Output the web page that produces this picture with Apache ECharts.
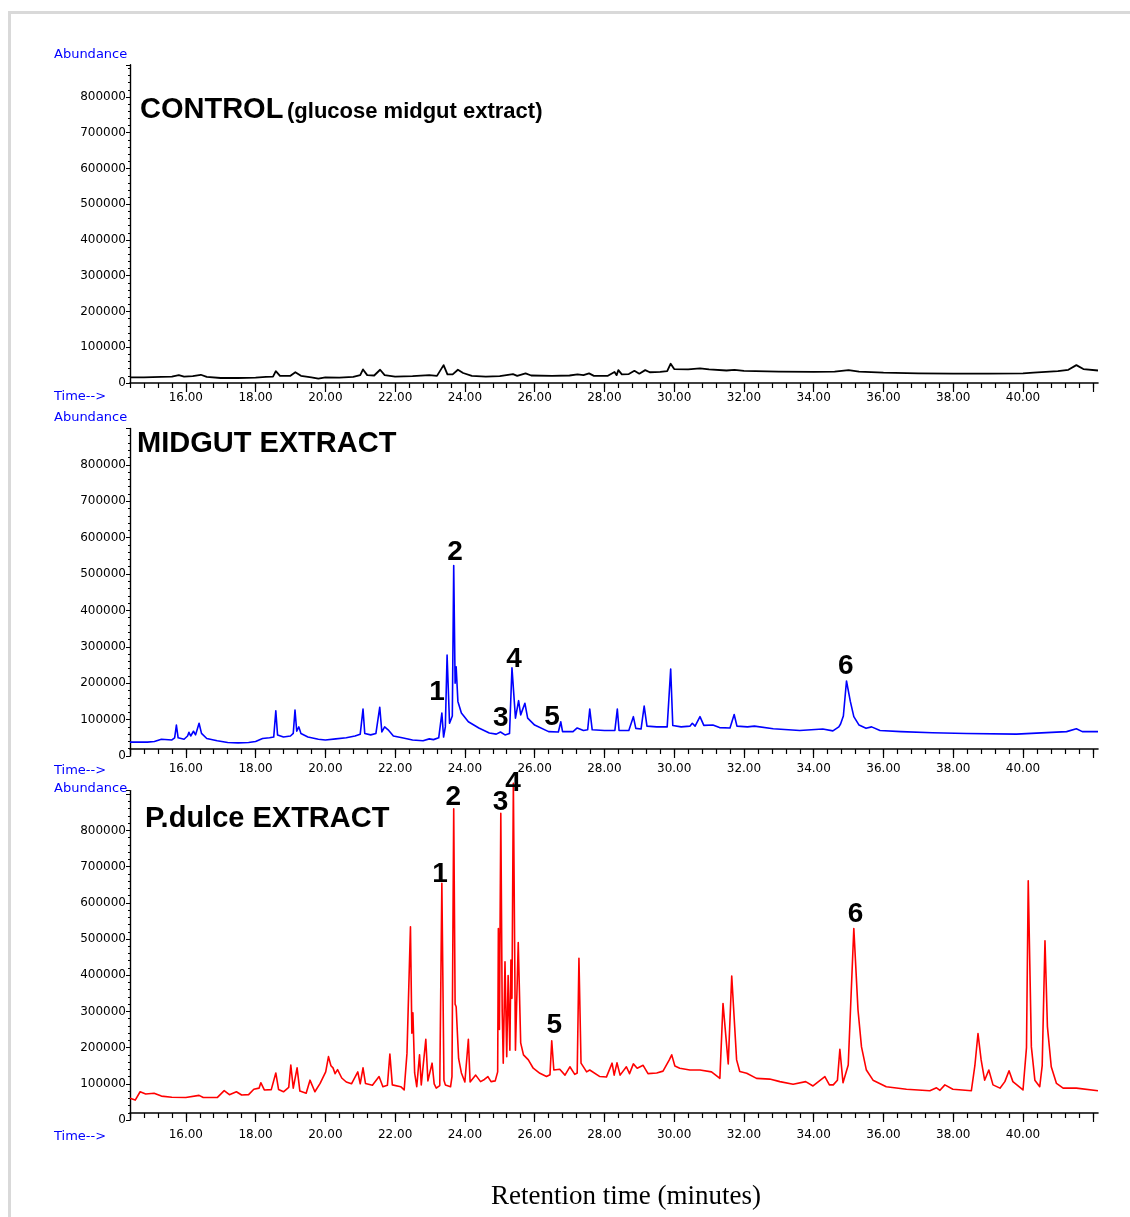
<!DOCTYPE html>
<html>
<head>
<meta charset="utf-8">
<script src="https://cdn.jsdelivr.net/npm/echarts@6/dist/echarts.min.js"></script>
<style>
  html, body { margin: 0; padding: 0; background: #ffffff; }
  #chart { width: 1130px; height: 1217px; }
</style>
</head>
<body>
<div id="chart"></div>
<script>
// GC-MS total ion chromatograms: retention time (min) vs abundance.

// Control (glucose midgut extract)
const controlTrace = [
  [14.40, 16000], [14.80, 16000], [15.30, 17000], [15.60, 18000], [15.80, 22000], [15.95, 18000],
  [16.20, 19000], [16.43, 23000], [16.60, 17000], [17.00, 14000], [17.50, 14000], [18.00, 15000],
  [18.30, 17000], [18.50, 18000], [18.58, 33000], [18.70, 20000], [19.00, 20000], [19.14, 30000],
  [19.30, 20000], [19.60, 16000], [19.80, 12000], [20.00, 16000], [20.40, 15000], [20.80, 17000],
  [21.00, 22000], [21.08, 38000], [21.20, 22000], [21.40, 21000], [21.57, 37000], [21.70, 22000],
  [22.00, 18000], [22.50, 19000], [22.98, 22000], [23.20, 20000], [23.39, 50000], [23.50, 24000],
  [23.65, 24000], [23.80, 37000], [23.95, 28000], [24.20, 20000], [24.60, 18000], [25.00, 19000],
  [25.38, 25000], [25.50, 20000], [25.74, 27000], [25.90, 21000], [26.50, 20000], [27.00, 21000],
  [27.23, 24000], [27.40, 22000], [27.56, 27000], [27.70, 20000], [28.10, 20000], [28.29, 31000],
  [28.35, 22000], [28.40, 36000], [28.50, 24000], [28.70, 25000], [28.86, 34000], [29.00, 26000],
  [29.17, 36000], [29.30, 30000], [29.60, 31000], [29.80, 33000], [29.90, 54000], [30.00, 39000],
  [30.40, 38000], [30.74, 41000], [31.00, 38000], [31.50, 35000], [31.73, 37000], [32.00, 34000],
  [33.00, 32000], [34.00, 31000], [34.60, 32000], [35.00, 36000], [35.30, 32000], [36.00, 29000],
  [37.00, 27000], [38.00, 26000], [39.00, 26000], [40.00, 27000], [40.30, 29000], [41.00, 33000],
  [41.30, 37000], [41.53, 50000], [41.73, 39000], [42.15, 35000]
];

// Midgut extract
const midgutTrace = [
  [14.40, 38000], [14.90, 38000], [15.10, 40000], [15.30, 46000], [15.60, 44000], [15.68, 50000],
  [15.73, 85000], [15.78, 50000], [15.95, 46000], [16.05, 55000], [16.09, 65000], [16.14, 55000],
  [16.22, 68000], [16.28, 58000], [16.38, 90000], [16.45, 62000], [16.60, 48000], [16.90, 42000],
  [17.20, 37000], [17.50, 36000], [17.80, 37000], [18.00, 40000], [18.20, 48000], [18.40, 50000],
  [18.52, 52000], [18.58, 124000], [18.63, 58000], [18.80, 52000], [19.00, 55000], [19.08, 62000],
  [19.13, 126000], [19.18, 68000], [19.24, 80000], [19.30, 62000], [19.50, 52000], [19.80, 46000],
  [20.00, 44000], [20.30, 47000], [20.60, 50000], [20.85, 55000], [21.00, 60000], [21.08, 129000],
  [21.13, 62000], [21.30, 58000], [21.45, 62000], [21.56, 134000], [21.62, 66000], [21.70, 80000],
  [21.80, 72000], [21.95, 55000], [22.20, 50000], [22.50, 44000], [22.80, 42000], [22.98, 47000],
  [23.10, 45000], [23.25, 50000], [23.34, 118000], [23.39, 52000], [23.44, 80000], [23.49, 277000],
  [23.56, 90000], [23.64, 110000], [23.68, 523000], [23.72, 200000], [23.75, 245000], [23.80, 150000],
  [23.90, 118000], [24.10, 94000], [24.40, 77000], [24.70, 63000], [24.90, 60000], [25.02, 66000],
  [25.15, 58000], [25.28, 62000], [25.35, 242000], [25.45, 104000], [25.54, 152000], [25.60, 113000],
  [25.72, 145000], [25.80, 104000], [26.00, 85000], [26.40, 67000], [26.68, 66000], [26.75, 94000],
  [26.80, 67000], [27.10, 67000], [27.22, 77000], [27.40, 70000], [27.52, 72000], [27.58, 129000],
  [27.65, 72000], [28.00, 70000], [28.30, 70000], [28.37, 129000], [28.42, 70000], [28.70, 70000],
  [28.83, 108000], [28.90, 76000], [29.05, 74000], [29.14, 137000], [29.22, 82000], [29.50, 80000],
  [29.80, 80000], [29.90, 239000], [29.96, 84000], [30.20, 80000], [30.45, 82000], [30.52, 90000],
  [30.60, 82000], [30.74, 108000], [30.85, 84000], [31.11, 85000], [31.30, 78000], [31.60, 77000],
  [31.72, 114000], [31.80, 82000], [32.10, 80000], [32.30, 82000], [32.84, 75000], [33.60, 70000],
  [34.26, 74000], [34.55, 69000], [34.72, 80000], [34.77, 88000], [34.85, 110000], [34.94, 206000],
  [35.05, 150000], [35.15, 108000], [35.30, 85000], [35.50, 76000], [35.66, 80000], [35.90, 70000],
  [36.50, 67000], [37.40, 64000], [38.38, 62000], [39.81, 60000], [41.25, 67000], [41.53, 75000],
  [41.70, 67000], [42.15, 67000]
];

// P.dulce extract
const dulceTrace = [
  [14.40, 60000], [14.55, 55000], [14.69, 78000], [14.85, 72000], [15.09, 74000], [15.30, 66000],
  [15.60, 63000], [16.00, 62000], [16.38, 68000], [16.50, 62000], [16.90, 62000], [17.10, 81000],
  [17.25, 70000], [17.45, 78000], [17.60, 69000], [17.80, 70000], [17.95, 85000], [18.10, 88000],
  [18.15, 103000], [18.25, 83000], [18.45, 84000], [18.58, 130000], [18.66, 84000], [18.80, 78000],
  [18.95, 90000], [19.01, 152000], [19.08, 88000], [19.19, 144000], [19.27, 80000], [19.45, 74000],
  [19.56, 110000], [19.70, 78000], [19.85, 101000], [20.01, 133000], [20.09, 175000], [20.16, 150000],
  [20.22, 144000], [20.28, 128000], [20.35, 139000], [20.47, 116000], [20.60, 105000], [20.75, 100000],
  [20.93, 133000], [21.00, 100000], [21.08, 144000], [21.15, 101000], [21.35, 96000], [21.54, 120000],
  [21.65, 92000], [21.78, 96000], [21.85, 182000], [21.92, 97000], [22.16, 92000], [22.26, 83000],
  [22.34, 184000], [22.44, 534000], [22.48, 240000], [22.51, 296000], [22.56, 130000], [22.62, 92000],
  [22.70, 180000], [22.75, 97000], [22.88, 223000], [22.94, 108000], [23.06, 157000], [23.12, 100000],
  [23.18, 88000], [23.28, 95000], [23.34, 654000], [23.40, 110000], [23.44, 97000], [23.59, 92000],
  [23.63, 120000], [23.68, 860000], [23.72, 320000], [23.75, 313000], [23.82, 170000], [23.90, 130000],
  [24.00, 105000], [24.10, 223000], [24.15, 105000], [24.31, 124000], [24.45, 106000], [24.56, 112000],
  [24.66, 120000], [24.75, 106000], [24.87, 108000], [24.94, 133000], [24.96, 529000], [24.99, 250000],
  [25.03, 847000], [25.07, 300000], [25.10, 157000], [25.15, 437000], [25.20, 175000], [25.24, 399000],
  [25.29, 193000], [25.32, 442000], [25.35, 336000], [25.39, 930000], [25.45, 193000], [25.53, 490000],
  [25.60, 213000], [25.68, 180000], [25.82, 166000], [25.96, 143000], [26.15, 129000], [26.34, 120000],
  [26.44, 125000], [26.49, 219000], [26.55, 138000], [26.72, 140000], [26.87, 124000], [27.01, 147000],
  [27.15, 126000], [27.22, 130000], [27.27, 447000], [27.33, 157000], [27.49, 133000], [27.58, 138000],
  [27.87, 120000], [28.06, 119000], [28.22, 157000], [28.28, 124000], [28.36, 158000], [28.45, 124000],
  [28.63, 147000], [28.72, 128000], [28.83, 155000], [28.94, 143000], [29.11, 151000], [29.25, 128000],
  [29.50, 130000], [29.68, 135000], [29.86, 166000], [29.93, 180000], [30.02, 149000], [30.16, 143000],
  [30.45, 138000], [30.74, 138000], [31.07, 133000], [31.31, 115000], [31.40, 322000], [31.55, 155000],
  [31.65, 398000], [31.79, 166000], [31.88, 134000], [32.08, 129000], [32.36, 115000], [32.74, 113000],
  [33.03, 106000], [33.41, 99000], [33.77, 106000], [33.98, 94000], [34.32, 120000], [34.45, 97000],
  [34.56, 97000], [34.68, 110000], [34.75, 195000], [34.84, 103000], [34.99, 152000], [35.15, 529000],
  [35.27, 304000], [35.37, 202000], [35.51, 138000], [35.70, 110000], [36.08, 92000], [36.66, 85000],
  [37.33, 81000], [37.52, 89000], [37.62, 82000], [37.76, 97000], [37.99, 85000], [38.52, 81000],
  [38.62, 150000], [38.71, 239000], [38.80, 166000], [38.90, 110000], [39.02, 138000], [39.14, 97000],
  [39.34, 88000], [39.48, 106000], [39.60, 136000], [39.71, 106000], [40.00, 83000], [40.10, 200000],
  [40.15, 661000], [40.24, 202000], [40.34, 110000], [40.48, 92000], [40.55, 150000], [40.63, 495000],
  [40.70, 258000], [40.81, 147000], [40.96, 101000], [41.15, 88000], [41.53, 88000], [42.15, 81000]
];

// Peak numbers: [id, retention time, abundance where the number sits]
const midgutPeakIds = [
  ['1', 23.20, 176000], ['2', 23.72, 560000], ['3', 25.03, 104000],
  ['4', 25.41, 266000], ['5', 26.50, 107000], ['6', 34.92, 247000]
];
const dulcePeakIds = [
  ['1', 23.29, 680000], ['2', 23.67, 891000], ['3', 25.02, 879000],
  ['4', 25.38, 930000], ['5', 26.56, 262000], ['6', 35.20, 569000]
];

// Axis tick labels
const timeTicks = [16, 18, 20, 22, 24, 26, 28, 30, 32, 34, 36, 38, 40];
const timeMajorTicks = [16, 18, 20, 22, 24, 26, 28, 30, 32, 34, 36, 38, 40, 42];
const abundanceTop = 800000;

const T_MIN = 14.4, T_MAX = 42.15;
const timeMinorTicks = [];
for (let k = 36; k <= 105; k++) timeMinorTicks.push(Math.round(k * 4) / 10);

const FONT = '"DejaVu Sans", Arial, sans-serif';
const SANS_B = '"Liberation Sans", Arial, sans-serif';
const BLUE = '#0000ff';

// one block per chromatogram: grid geometry in px
const panels = [
  { top: 64.8, height: 318.2, yMax: 890000, offset: 0, margin: 9, color: '#000000', width: 1.8, data: controlTrace },
  { top: 428.4, height: 327.6, yMax: 900000, offset: -7, margin: 14, color: '#0000ff', width: 1.6, data: midgutTrace },
  { top: 790.6, height: 329.4, yMax: 910000, offset: -7, margin: 16, color: '#ff0000', width: 1.6, data: dulceTrace }
];

const grid = [], xAxis = [], yAxis = [], series = [];
panels.forEach((p, i) => {
  grid.push({ left: 130, width: 968, top: p.top, height: p.height, outerBoundsMode: 'none', containLabel: false });
  // short ticks, axis line and labels
  xAxis.push({
    type: 'value', gridIndex: i, min: T_MIN, max: T_MAX, position: 'bottom', offset: p.offset,
    axisLine: { onZero: false, lineStyle: { color: '#000', width: 1.6 } },
    axisTick: { show: true, customValues: timeMinorTicks, length: 5, lineStyle: { color: '#000', width: 1.2 } },
    axisLabel: { show: true, customValues: timeTicks, margin: p.margin, color: '#000', fontFamily: FONT, fontSize: 12,
      formatter: v => v.toFixed(2) },
    splitLine: { show: false }
  });
  // long ticks at even minutes
  xAxis.push({
    type: 'value', gridIndex: i, min: T_MIN, max: T_MAX, position: 'bottom', offset: p.offset,
    axisLine: { show: false, onZero: false },
    axisTick: { show: true, customValues: timeMajorTicks, length: 9, lineStyle: { color: '#000', width: 1.2 } },
    axisLabel: { show: false },
    splitLine: { show: false }
  });
  yAxis.push({
    type: 'value', gridIndex: i, min: 0, max: p.yMax, interval: 100000,
    axisLine: { show: true, lineStyle: { color: '#000', width: 1.4 } },
    axisTick: { show: true, length: 4, lineStyle: { color: '#000', width: 1 } },
    minorTick: { show: true, splitNumber: 5, length: 2, lineStyle: { color: '#000', width: 1 } },
    axisLabel: { margin: 4, color: '#000', fontFamily: FONT, fontSize: 12,
      formatter: v => (v <= abundanceTop ? String(v) : '') },
    splitLine: { show: false }
  });
  series.push({
    type: 'line', xAxisIndex: i * 2, yAxisIndex: i, data: p.data,
    symbol: 'none', smooth: false, sampling: 'none', clip: i !== 2,
    lineStyle: { color: p.color, width: p.width, join: 'round' }, z: 3
  });
});

// peak numbers placed through the panel's own axes
function peakIdSeries(ids, panelIdx) {
  return {
    type: 'custom', xAxisIndex: panelIdx * 2, yAxisIndex: panelIdx, clip: false, z: 10, silent: true,
    data: ids.map(d => [d[1], d[2], d[0]]),
    renderItem: (params, api) => {
      const pt = api.coord([api.value(0), api.value(1)]);
      return {
        type: 'text', x: pt[0], y: pt[1],
        style: { text: String(api.value(2)), fill: '#000000', font: 'bold 28px ' + SANS_B,
          align: 'center', verticalAlign: 'middle' }
      };
    }
  };
}
series.push(peakIdSeries(midgutPeakIds, 1));
series.push(peakIdSeries(dulcePeakIds, 2));

function txt(x, y, text, size, opts) {
  return {
    type: 'text', x: x, y: y, z: 20,
    style: Object.assign({ text: text, fontSize: size, fontFamily: FONT, fill: '#000',
      textAlign: 'left', textVerticalAlign: 'middle' }, opts || {})
  };
}

const graphic = [
  { type: 'rect', shape: { x: 9.5, y: 12.5, width: 1200, height: 1300 }, style: { fill: 'none', stroke: '#d9d9d9', lineWidth: 3 }, z: 0 },
  txt(54, 55, 'Abundance', 13, { fill: BLUE }),
  txt(54, 397, 'Time-->', 13, { fill: BLUE }),
  txt(54, 418, 'Abundance', 13, { fill: BLUE }),
  txt(54, 771, 'Time-->', 13, { fill: BLUE }),
  txt(54, 789, 'Abundance', 13, { fill: BLUE }),
  txt(54, 1137, 'Time-->', 13, { fill: BLUE }),
  txt(140, 110, 'CONTROL', 29, { fontFamily: SANS_B, fontWeight: 'bold' }),
  txt(287, 112, '(glucose midgut extract)', 22, { fontFamily: SANS_B, fontWeight: 'bold' }),
  txt(137, 444, 'MIDGUT EXTRACT', 29, { fontFamily: SANS_B, fontWeight: 'bold' }),
  txt(145, 819, 'P.dulce EXTRACT', 29, { fontFamily: SANS_B, fontWeight: 'bold' }),
  txt(626, 1197, 'Retention time (minutes)', 27, { fontFamily: '"Liberation Serif", "Times New Roman", serif', textAlign: 'center' })
];

const chart = echarts.init(document.getElementById('chart'), null, { renderer: 'canvas' });
chart.setOption({
  animation: false,
  backgroundColor: '#ffffff',
  grid: grid,
  xAxis: xAxis,
  yAxis: yAxis,
  series: series,
  graphic: graphic
});
</script>
</body>
</html>
